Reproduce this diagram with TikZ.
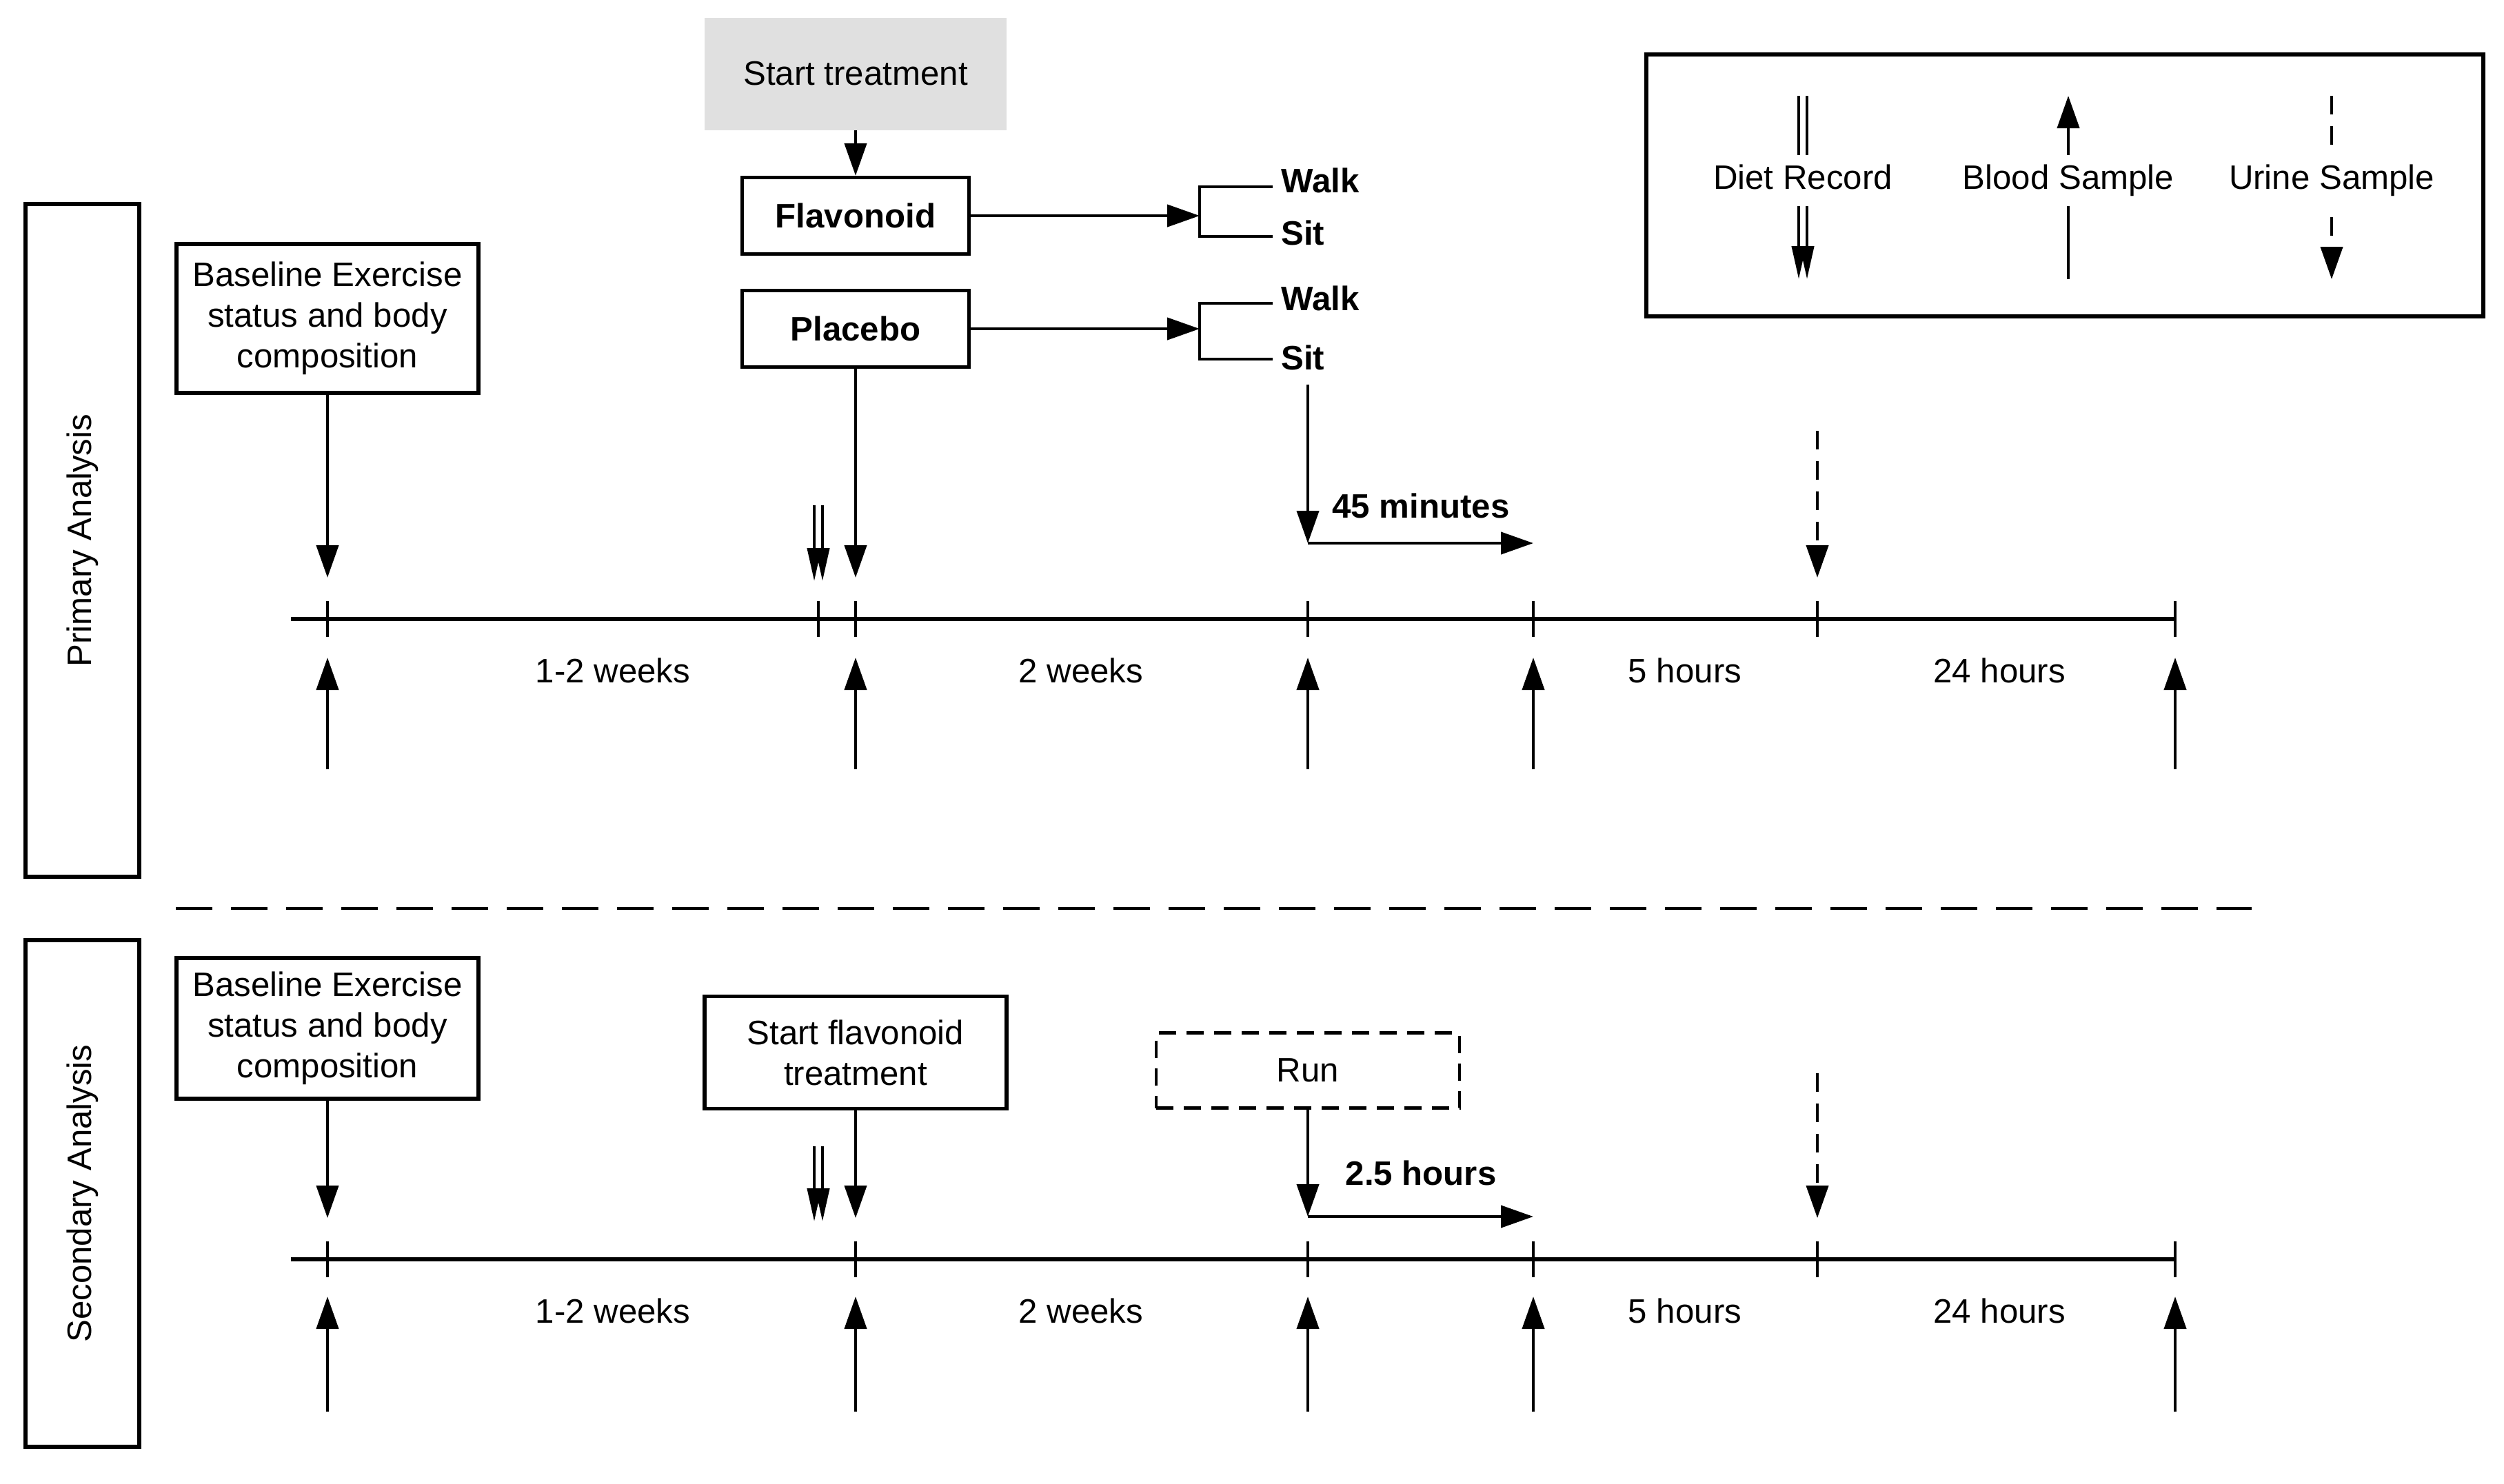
\documentclass[tikz,border=0pt]{standalone}
\usepackage{fontspec}
\setmainfont{Liberation Sans}
\usetikzlibrary{arrows.meta}

\begin{document}
\begin{tikzpicture}[x=1cm,y=-1cm,
    font=\fontsize{14}{16.8}\selectfont,
    boldtext/.style={font=\fontsize{14}{16.8}\selectfont\bfseries},
    arr/.style={very thick,-{Triangle[length=0.47cm,width=0.32cm]}},
    dietarr/.style={very thick,-{Triangle[length=0.48cm,width=0.2cm]}},
    urinearr/.style={arr,dash pattern=on 0.27cm off 0.17cm},
    box/.style={draw,line width=1.5pt,align=center,inner sep=0pt},
    keylabel/.style={fill=white,inner xsep=2pt,inner ysep=4pt,text height=10pt,text depth=3pt},
    bar/.style={line width=1.6pt}]

    \useasboundingbox (0,0) rectangle (36.32,21.52);

    \node [box,minimum width=9.76cm,minimum height=1.65cm,rotate=90] (prim) at (1.195,7.84) {Primary Analysis};
    \node [box,minimum width=7.35cm,minimum height=1.65cm,rotate=90] (sec) at (1.195,17.315) {Secondary Analysis};
    \draw [line width=1.4pt,dash pattern=on 0.53cm off 0.27cm] (2.55,13.18) -- (32.66,13.18);

    \node [box,minimum width=4.38cm,minimum height=2.16cm] (base1) at (4.75,4.62) {Baseline Exercise\\status and body\\composition};
    \node [fill=gray!24,minimum width=4.38cm,minimum height=1.63cm] (start) at (12.41,1.07) {Start treatment};
    \node [box,boldtext,minimum width=3.29cm,minimum height=1.11cm] (flav) at (12.41,3.13) {Flavonoid};
    \node [box,boldtext,minimum width=3.29cm,minimum height=1.11cm] (plac) at (12.41,4.77) {Placebo};

    \coordinate (fb) at (17.40,3.13);
    \coordinate (pb) at (17.40,4.77);
    \draw [arr] (start) -- (flav);
    \draw [arr] (flav) -- (fb);
    \draw [arr] (plac) -- (pb);
    \draw [very thick] (18.46,2.71) -- (17.40,2.71) -- (17.40,3.43) -- (18.46,3.43);
    \draw [very thick] (18.46,4.40) -- (17.40,4.40) -- (17.40,5.21) -- (18.46,5.21);
    \node [boldtext,anchor=west] (walk1) at (18.46,2.62) {Walk};
    \node [boldtext,anchor=west] (sit1) at (18.46,3.38) {Sit};
    \node [boldtext,anchor=west] (walk2) at (18.46,4.33) {Walk};
    \node [boldtext,anchor=west] (sit2) at (18.46,5.19) {Sit};

    \coordinate (a0) at (4.22,8.98);
    \coordinate (a1) at (4.75,8.98);
    \coordinate (a2) at (11.87,8.98);
    \coordinate (a3) at (12.41,8.98);
    \coordinate (a4) at (18.97,8.98);
    \coordinate (a5) at (22.24,8.98);
    \coordinate (a6) at (26.36,8.98);
    \coordinate (a7) at (31.55,8.98);
    \draw [bar] (a0) -- (a7);
    \draw [very thick] ([yshift=0.26cm]a1) -- ([yshift=-0.26cm]a1);
    \draw [very thick] ([yshift=0.26cm]a2) -- ([yshift=-0.26cm]a2);
    \draw [very thick] ([yshift=0.26cm]a3) -- ([yshift=-0.26cm]a3);
    \draw [very thick] ([yshift=0.26cm]a4) -- ([yshift=-0.26cm]a4);
    \draw [very thick] ([yshift=0.26cm]a5) -- ([yshift=-0.26cm]a5);
    \draw [very thick] ([yshift=0.26cm]a6) -- ([yshift=-0.26cm]a6);
    \draw [very thick] ([yshift=0.26cm]a7) -- ([yshift=-0.26cm]a7);

    \node (w1) at (8.89,9.73) {1-2 weeks};
    \node (w2) at (15.68,9.73) {2 weeks};
    \node (h1) at (24.44,9.73) {5 hours};
    \node (h2) at (29.00,9.73) {24 hours};

    \draw [arr,shorten >=0.6cm] (base1) -- (a1);
    \draw [arr,shorten >=0.6cm] (plac) -- (a3);
    \coordinate (d1) at (11.87,7.33);
    \draw [dietarr,shorten >=0.55cm] ([xshift=-0.06cm]d1) -- ([xshift=-0.06cm]a2);
    \draw [dietarr,shorten >=0.55cm] ([xshift=0.06cm]d1) -- ([xshift=0.06cm]a2);
    \coordinate (u1) at (26.36,6.25);
    \draw [urinearr,shorten >=0.6cm] (u1) -- (a6);
    \coordinate (m45) at (18.97,7.88);
    \coordinate (m45e) at (22.24,7.88);
    \draw [arr] ([yshift=-0.08cm]m45 |- sit2.south) -- (m45);
    \draw [arr] (m45) -- (m45e);
    \node [boldtext] (t45) at (20.61,7.34) {45 minutes};

    \draw [arr] ([yshift=-2.18cm]a1) -- ([yshift=-0.56cm]a1);
    \draw [arr] ([yshift=-2.18cm]a3) -- ([yshift=-0.56cm]a3);
    \draw [arr] ([yshift=-2.18cm]a4) -- ([yshift=-0.56cm]a4);
    \draw [arr] ([yshift=-2.18cm]a5) -- ([yshift=-0.56cm]a5);
    \draw [arr] ([yshift=-2.18cm]a7) -- ([yshift=-0.56cm]a7);

    \node [box,minimum width=4.38cm,minimum height=2.04cm] (base2) at (4.75,14.92) {Baseline Exercise\\status and body\\composition};
    \node [box,minimum width=4.38cm,minimum height=1.63cm] (startflav) at (12.41,15.27) {Start flavonoid\\treatment};
    \node [box,line width=1.2pt,dash pattern=on 0.25cm off 0.15cm,minimum width=4.40cm,minimum height=1.09cm] (run) at (18.97,15.53) {Run};

    \coordinate (b0) at (4.22,18.27);
    \coordinate (b1) at (4.75,18.27);
    \coordinate (b2) at (11.87,18.27);
    \coordinate (b3) at (12.41,18.27);
    \coordinate (b4) at (18.97,18.27);
    \coordinate (b5) at (22.24,18.27);
    \coordinate (b6) at (26.36,18.27);
    \coordinate (b7) at (31.55,18.27);
    \draw [bar] (b0) -- (b7);
    \draw [very thick] ([yshift=0.26cm]b1) -- ([yshift=-0.26cm]b1);
    \draw [very thick] ([yshift=0.26cm]b3) -- ([yshift=-0.26cm]b3);
    \draw [very thick] ([yshift=0.26cm]b4) -- ([yshift=-0.26cm]b4);
    \draw [very thick] ([yshift=0.26cm]b5) -- ([yshift=-0.26cm]b5);
    \draw [very thick] ([yshift=0.26cm]b6) -- ([yshift=-0.26cm]b6);
    \draw [very thick] ([yshift=0.26cm]b7) -- ([yshift=-0.26cm]b7);

    \node (w3) at (8.89,19.02) {1-2 weeks};
    \node (w4) at (15.68,19.02) {2 weeks};
    \node (h3) at (24.44,19.02) {5 hours};
    \node (h4) at (29.00,19.02) {24 hours};

    \draw [arr,shorten >=0.6cm] (base2) -- (b1);
    \draw [arr,shorten >=0.6cm] (startflav) -- (b3);
    \coordinate (d2) at (11.87,16.63);
    \draw [dietarr,shorten >=0.55cm] ([xshift=-0.06cm]d2) -- ([xshift=-0.06cm]b2);
    \draw [dietarr,shorten >=0.55cm] ([xshift=0.06cm]d2) -- ([xshift=0.06cm]b2);
    \coordinate (u2) at (26.36,15.57);
    \draw [urinearr,shorten >=0.6cm] (u2) -- (b6);
    \coordinate (r25) at (18.97,17.65);
    \coordinate (r25e) at (22.24,17.65);
    \draw [arr] (run) -- (r25);
    \draw [arr] (r25) -- (r25e);
    \node [boldtext] (t25) at (20.61,17.02) {2.5 hours};

    \draw [arr] ([yshift=-2.21cm]b1) -- ([yshift=-0.54cm]b1);
    \draw [arr] ([yshift=-2.21cm]b3) -- ([yshift=-0.54cm]b3);
    \draw [arr] ([yshift=-2.21cm]b4) -- ([yshift=-0.54cm]b4);
    \draw [arr] ([yshift=-2.21cm]b5) -- ([yshift=-0.54cm]b5);
    \draw [arr] ([yshift=-2.21cm]b7) -- ([yshift=-0.54cm]b7);

    \node [draw,line width=1.5pt,minimum width=12.14cm,minimum height=3.80cm] (legend) at (29.95,2.69) {};
    \coordinate (lgd1) at (26.15,1.39);
    \coordinate (lgd2) at (26.15,4.05);
    \coordinate (lgb1) at (30.00,1.39);
    \coordinate (lgb2) at (30.00,4.05);
    \coordinate (lgu1) at (33.82,1.39);
    \coordinate (lgu2) at (33.82,4.05);
    \draw [dietarr] ([xshift=-0.06cm]lgd1) -- ([xshift=-0.06cm]lgd2);
    \draw [dietarr] ([xshift=0.06cm]lgd1) -- ([xshift=0.06cm]lgd2);
    \draw [arr] (lgb2) -- (lgb1);
    \draw [urinearr] (lgu1) -- (lgu2);
    \node [keylabel] (diet) at (26.15,2.62) {Diet Record};
    \node [keylabel] (blood) at (30.00,2.62) {Blood Sample};
    \node [keylabel] (urine) at (33.82,2.62) {Urine Sample};
\end{tikzpicture}
\end{document}
